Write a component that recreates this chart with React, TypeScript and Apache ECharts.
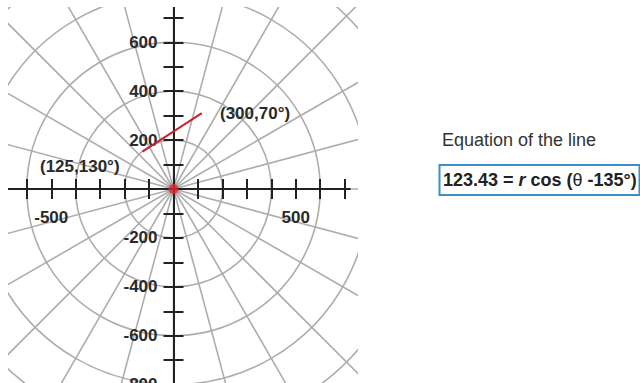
import { useEffect, useRef } from "react";
import * as echarts from "echarts";

// ---- data ----
const xTickValues = [-600, -500, -400, -300, -200, -100, 0, 100, 200, 300, 400, 500, 600, 700];
const xLabelValues = [-500, 500];
const yTickValues = [-800, -700, -600, -500, -400, -300, -200, -100, 0, 100, 200, 300, 400, 500, 600, 700];
const yLabelValues = [-800, -600, -400, -200, 200, 400, 600];
const circleStep = 200;
const circleMax = 1200;
const radialStep = 15; // degrees
const lineX = [-127, 116];
const lineY = [153, 310];
const pointLabels = ["(125,130°)", "(300,70°)"];
const origin = [0, 0];
const eqTitle = "Equation of the line";

// ---- layout ----
const W = 640;
const H = 383;
const CX = 173.5;
const CY = 189;
const PX = 0.2445; // px per unit
const X_MIN = -675;
const X_MAX = 720;
const Y_MIN = -800;
const Y_MAX = 744;
const FONT = "'Liberation Sans', Arial, Helvetica, sans-serif";

export default function App() {
  const ref = useRef<HTMLDivElement>(null);
  useEffect(() => {
    if (!ref.current) return;
    const chart = echarts.init(ref.current, null, { renderer: "svg" });
    const gridLeft = CX + PX * X_MIN;
    const gridRight = CX + PX * X_MAX;
    const gridTop = CY - PX * Y_MAX;
    const gridBottom = CY - PX * Y_MIN;
    const axisColor = "#222";
    const gridColor = "#adadad";
    const labelStyle = { fontFamily: FONT, fontSize: 17, fontWeight: "bold" as const, color: "#2a2a2a" };

    const xCommon = {
      type: "value" as const,
      min: X_MIN,
      max: X_MAX,
      splitLine: { show: false },
      axisLine: { show: true, onZero: false, lineStyle: { color: axisColor, width: 2 } },
    };
    const yCommon = {
      type: "value" as const,
      min: Y_MIN,
      max: Y_MAX,
      splitLine: { show: false },
      axisLine: { show: true, onZero: false, lineStyle: { color: axisColor, width: 2 } },
    };
    const tickStyle = { color: axisColor, width: 2 };

    chart.setOption({
      animation: false,
      backgroundColor: "#fff",
      polar: { center: [CX, CY], radius: circleMax * PX },
      radiusAxis: {
        type: "value",
        min: 0,
        max: circleMax,
        interval: circleStep,
        axisLine: { show: false },
        axisTick: { show: false },
        axisLabel: { show: false },
        splitLine: { show: true, lineStyle: { color: gridColor, width: 1.6 } },
      },
      angleAxis: {
        type: "value",
        min: 0,
        max: 360,
        interval: radialStep,
        startAngle: 0,
        clockwise: false,
        axisLine: { show: false },
        axisTick: { show: false },
        axisLabel: { show: false },
        splitLine: { show: true, lineStyle: { color: gridColor, width: 1.6 } },
      },
      grid: {
        left: gridLeft,
        top: gridTop,
        width: gridRight - gridLeft,
        height: gridBottom - gridTop,
        containLabel: false,
        outerBoundsMode: "none",
      },
      xAxis: [
        {
          ...xCommon,
          position: "bottom",
          offset: -(gridBottom - CY),
          axisTick: { show: true, length: 10, customValues: xTickValues, lineStyle: tickStyle },
          axisLabel: { show: true, customValues: xLabelValues, margin: 20, ...labelStyle },
        },
        {
          ...xCommon,
          position: "top",
          offset: -(CY - gridTop),
          axisTick: { show: true, length: 10, customValues: xTickValues, lineStyle: tickStyle },
          axisLabel: { show: false },
        },
      ],
      yAxis: [
        {
          ...yCommon,
          position: "left",
          offset: -(CX - gridLeft),
          axisTick: { show: true, length: 10, customValues: yTickValues, lineStyle: tickStyle },
          axisLabel: { show: true, customValues: yLabelValues, margin: 16, showMinLabel: true, ...labelStyle },
        },
        {
          ...yCommon,
          position: "right",
          offset: -(gridRight - CX),
          axisTick: { show: true, length: 10, customValues: yTickValues, lineStyle: tickStyle },
          axisLabel: { show: false },
        },
      ],
      series: [
        {
          type: "line",
          xAxisIndex: 0,
          yAxisIndex: 0,
          data: lineX.map((x, i) => [x, lineY[i]]),
          showSymbol: false,
          symbol: "none",
          lineStyle: { color: "#c8232c", width: 2 },
          z: 5,
        },
        {
          type: "scatter",
          xAxisIndex: 0,
          yAxisIndex: 0,
          data: [origin],
          symbolSize: 10,
          itemStyle: { color: "#e3242b" },
          z: 6,
        },
      ],
      graphic: [
        { type: "rect", z: 100, shape: { x: 0, y: 0, width: 8, height: H }, style: { fill: "#fff" } },
        { type: "rect", z: 100, shape: { x: 0, y: 0, width: W, height: 7 }, style: { fill: "#fff" } },
        { type: "rect", z: 100, shape: { x: 358, y: 0, width: W - 358, height: H }, style: { fill: "#fff" } },
        {
          type: "text",
          z: 110,
          x: 40,
          y: 166.5,
          style: { text: pointLabels[0], font: `bold 17px ${FONT}`, fill: "#2a2a2a", verticalAlign: "middle" },
        },
        {
          type: "text",
          z: 110,
          x: 220,
          y: 113.5,
          style: { text: pointLabels[1], font: `bold 17px ${FONT}`, fill: "#2a2a2a", verticalAlign: "middle" },
        },
        {
          type: "text",
          z: 110,
          x: 442,
          y: 139.5,
          style: { text: eqTitle, font: `18px ${FONT}`, fill: "#333", verticalAlign: "middle" },
        },
        {
          type: "rect",
          z: 110,
          shape: { x: 439.5, y: 165, width: 200, height: 30 },
          style: { fill: "#fff", stroke: "#3d8dc6", lineWidth: 2 },
        },
        {
          type: "text",
          z: 111,
          x: 443,
          y: 180,
          style: {
            text: "{b|123.43 = }{i|r}{b| cos (}{t|θ}{b| -135°)}",
            verticalAlign: "middle",
            rich: {
              b: { fontFamily: FONT, fontSize: 18, fontWeight: "bold", fill: "#222" },
              i: { fontFamily: FONT, fontSize: 18, fontWeight: "bold", fontStyle: "italic", fill: "#222" },
              t: { fontFamily: FONT, fontSize: 18, fontWeight: "normal", fill: "#222" },
            },
          },
        },
      ],
    });
    return () => chart.dispose();
  }, []);
  return (
    <div
      ref={ref}
      style={{ position: "absolute", left: 0, top: 0, width: W, height: H }}
    />
  );
}
